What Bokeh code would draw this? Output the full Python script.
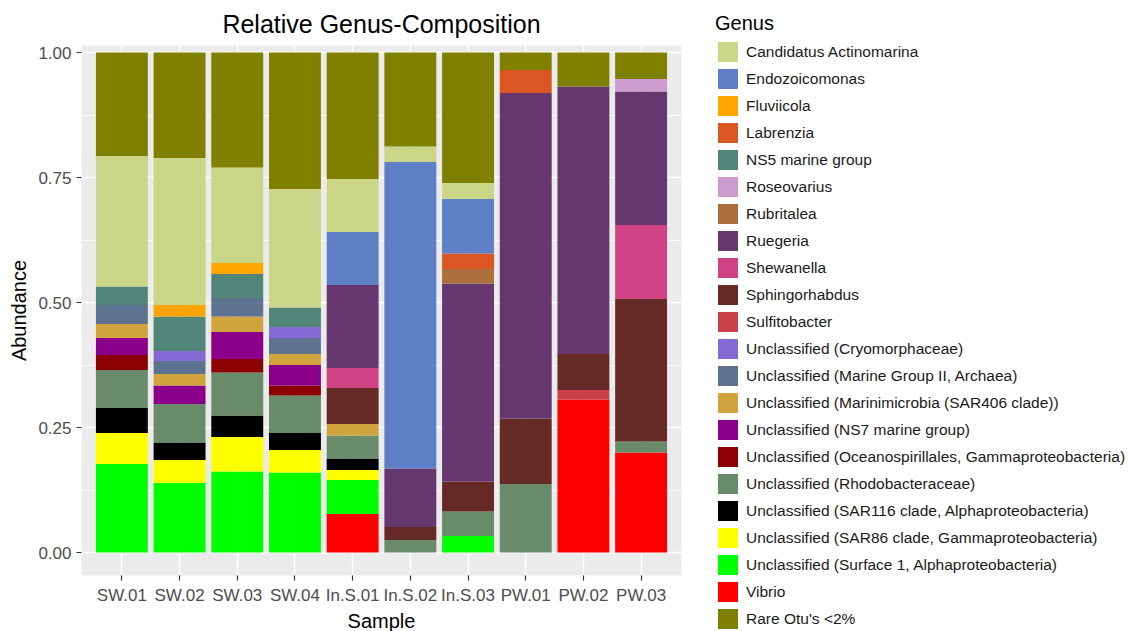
from bokeh.plotting import figure
from bokeh.models import (ColumnDataSource, FactorRange, Range1d, FixedTicker,
                          PrintfTickFormatter, Legend, LegendItem)
from bokeh.embed import file_html
from bokeh.resources import INLINE

samples = ["SW.01", "SW.02", "SW.03", "SW.04", "In.S.01", "In.S.02",
           "In.S.03", "PW.01", "PW.02", "PW.03"]

# relative abundance per genus, one value per sample (same order as samples)
vibrio = [0, 0, 0, 0, 0.077, 0, 0, 0, 0.306, 0.200]
surface1 = [0.177, 0.139, 0.162, 0.160, 0.068, 0, 0.033, 0, 0, 0]
sar86 = [0.062, 0.046, 0.069, 0.045, 0.020, 0, 0, 0, 0, 0]
sar116 = [0.050, 0.035, 0.043, 0.034, 0.023, 0, 0, 0, 0, 0]
rhodobacteraceae = [0.076, 0.077, 0.086, 0.075, 0.046, 0.025, 0.049, 0.137, 0, 0.022]
oceanospirillales = [0.030, 0, 0.027, 0.020, 0, 0, 0, 0, 0, 0]
ns7 = [0.034, 0.037, 0.054, 0.041, 0, 0, 0, 0, 0, 0]
marinimicrobia = [0.028, 0.023, 0.031, 0.022, 0.023, 0, 0, 0, 0, 0]
marine_group_ii = [0.038, 0.026, 0.037, 0.032, 0, 0, 0, 0, 0, 0]
cryomorphaceae = [0, 0.020, 0, 0.022, 0, 0, 0, 0, 0, 0]
sulfitobacter = [0, 0, 0, 0, 0, 0, 0, 0, 0.019, 0]
sphingorhabdus = [0, 0, 0, 0, 0.072, 0.026, 0.060, 0.131, 0.072, 0.285]
shewanella = [0, 0, 0, 0, 0.040, 0, 0, 0, 0, 0.148]
ruegeria = [0, 0, 0, 0, 0.166, 0.117, 0.396, 0.651, 0.535, 0.267]
rubritalea = [0, 0, 0, 0, 0, 0, 0.029, 0, 0, 0]
roseovarius = [0, 0, 0, 0, 0, 0, 0, 0, 0, 0.025]
ns5 = [0.037, 0.069, 0.048, 0.039, 0, 0, 0, 0, 0, 0]
labrenzia = [0, 0, 0, 0, 0, 0, 0.031, 0.046, 0, 0]
fluviicola = [0, 0.023, 0.022, 0, 0, 0, 0, 0, 0, 0]
endozoicomonas = [0, 0, 0, 0, 0.106, 0.613, 0.109, 0, 0, 0]
actinomarina = [0.261, 0.294, 0.191, 0.237, 0.106, 0.031, 0.032, 0, 0, 0]
rare = [0.207, 0.211, 0.230, 0.273, 0.253, 0.188, 0.261, 0.035, 0.068, 0.053]

# (column key, legend label, values, fill colour) in legend order
genera = [
    ("actinomarina", "Candidatus Actinomarina", actinomarina, "#CBD588"),
    ("endozoicomonas", "Endozoicomonas", endozoicomonas, "#5F7FC7"),
    ("fluviicola", "Fluviicola", fluviicola, "#FFA500"),
    ("labrenzia", "Labrenzia", labrenzia, "#DA5724"),
    ("ns5", "NS5 marine group", ns5, "#508578"),
    ("roseovarius", "Roseovarius", roseovarius, "#CD9BCD"),
    ("rubritalea", "Rubritalea", rubritalea, "#AD6F3B"),
    ("ruegeria", "Ruegeria", ruegeria, "#673770"),
    ("shewanella", "Shewanella", shewanella, "#D14285"),
    ("sphingorhabdus", "Sphingorhabdus", sphingorhabdus, "#652926"),
    ("sulfitobacter", "Sulfitobacter", sulfitobacter, "#C84248"),
    ("cryomorphaceae", "Unclassified (Cryomorphaceae)", cryomorphaceae, "#8569D5"),
    ("marine_group_ii", "Unclassified (Marine Group II, Archaea)", marine_group_ii, "#5E738F"),
    ("marinimicrobia", "Unclassified (Marinimicrobia (SAR406 clade))", marinimicrobia, "#D1A33D"),
    ("ns7", "Unclassified (NS7 marine group)", ns7, "#8B008B"),
    ("oceanospirillales", "Unclassified (Oceanospirillales, Gammaproteobacteria)", oceanospirillales, "#8B0000"),
    ("rhodobacteraceae", "Unclassified (Rhodobacteraceae)", rhodobacteraceae, "#698B69"),
    ("sar116", "Unclassified (SAR116 clade, Alphaproteobacteria)", sar116, "#000000"),
    ("sar86", "Unclassified (SAR86 clade, Gammaproteobacteria)", sar86, "#FFFF00"),
    ("surface1", "Unclassified (Surface 1, Alphaproteobacteria)", surface1, "#00FF00"),
    ("vibrio", "Vibrio", vibrio, "#FF0000"),
    ("rare", "Rare Otu's <2%", rare, "#808000"),
]

# stacking: Vibrio at the base up to Candidatus, with the rare OTUs on top
stack_order = [g for g in reversed(genera[:-1])] + [genera[-1]]

data = {"sample": samples}
for key, _, vals, _ in genera:
    data[key] = vals
source = ColumnDataSource(data)

FONT = "Liberation Sans"
PANEL_BG = "#EBEBEB"

p = figure(
    x_range=FactorRange(factors=samples, range_padding=0.2, range_padding_units="absolute"),
    y_range=Range1d(-0.046, 1.014),
    frame_width=600, frame_height=530,
    min_border_left=81, min_border_right=0, min_border_top=44, min_border_bottom=57,
    output_backend="svg", toolbar_location=None,
    title="Relative Genus-Composition",
)
p.background_fill_color = PANEL_BG
p.border_fill_color = "white"
p.outline_line_color = None

renderers = p.vbar_stack(
    [g[0] for g in stack_order], x="sample", width=0.9, source=source,
    color=[g[3] for g in stack_order], line_width=0,
)
by_key = {g[0]: r for g, r in zip(stack_order, renderers)}

# title
p.title.text_font = FONT
p.title.text_font_size = "25px"
p.title.text_font_style = "normal"
p.title.text_color = "black"
p.title.align = "center"
p.title.standoff = 15

# axes
p.yaxis.ticker = FixedTicker(ticks=[0, 0.25, 0.5, 0.75, 1.0],
                             minor_ticks=[0.125, 0.375, 0.625, 0.875])
p.yaxis.formatter = PrintfTickFormatter(format="%.2f")
for ax in (p.xaxis[0], p.yaxis[0]):
    ax.axis_line_color = None
    ax.major_tick_line_color = "#333333"
    ax.major_tick_line_width = 1.2
    ax.major_tick_out = 5
    ax.major_tick_in = 0
    ax.minor_tick_line_color = None
    ax.major_label_text_font = FONT
    ax.major_label_text_font_size = "17px"
    ax.major_label_text_color = "#4D4D4D"
    ax.major_label_standoff = 5
    ax.axis_label_text_font = FONT
    ax.axis_label_text_font_size = "20px"
    ax.axis_label_text_font_style = "normal"
    ax.axis_label_text_color = "black"
p.xaxis.axis_label = "Sample"
p.xaxis.axis_label_standoff = 2
p.yaxis.axis_label = "Abundance"
p.yaxis.axis_label_standoff = 5

# grid
p.xgrid.grid_line_color = "white"
p.xgrid.grid_line_width = 1.5
p.ygrid.grid_line_color = "white"
p.ygrid.grid_line_width = 1.5
p.ygrid.minor_grid_line_color = "white"
p.ygrid.minor_grid_line_width = 0.7

# legend in the right-hand panel
items = [LegendItem(label=label, renderers=[by_key[key]]) for key, label, _, _ in genera]
legend = Legend(
    items=items, title="Genus",
    location=(34, -56),
    glyph_width=25, glyph_height=25, spacing=2,
    label_text_font=FONT, label_text_font_size="15.5px", label_text_color="#1A1A1A",
    label_standoff=6,
    title_text_font=FONT, title_text_font_size="20px", title_text_font_style="normal",
    title_text_color="black", title_standoff=4,
    padding=0, margin=0,
    background_fill_alpha=0, border_line_color=None,
)
p.add_layout(legend, "right")

open("out.html", "w").write(file_html(p, INLINE))
